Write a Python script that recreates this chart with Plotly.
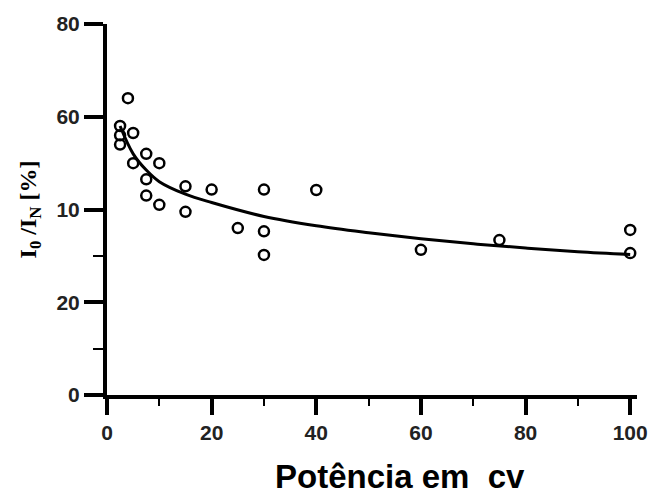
import plotly.graph_objects as go

# measured points (power in cv, I0/IN in %)
power_cv = [4, 2.5, 5, 2.5, 2.5, 7.5, 5, 10, 7.5, 7.5, 10, 15, 15, 20, 30, 25, 30, 30, 40, 60, 75, 100, 100]
ratio_pct = [64, 58, 56.5, 56, 54, 52, 50, 50, 46.5, 43, 41, 45, 39.5, 44.3, 44.3, 36, 35.3, 30.2, 44.2, 31.3, 33.4, 35.6, 30.6]

# trend curve
curve_x = [2.5, 5, 7.5, 10, 15, 20, 30, 40, 50, 60, 70, 80, 90, 100]
curve_y = [58, 52, 48.5, 46, 43.3, 41.5, 38.5, 36.5, 35, 33.7, 32.6, 31.7, 30.9, 30.3]

x_ticks = [0, 20, 40, 60, 80, 100]
x_ticklabels = ["0", "20", "40", "60", "80", "100"]
y_ticks = [0, 20, 40, 60, 80]
y_ticklabels = ["0", "20", "10", "60", "80"]

x_title = "Potência em  cv"
y_title = "I<sub>0</sub> /I<sub>N</sub> [%]"

tickfont = dict(family="Liberation Sans", size=21, color="#222", weight="bold")

fig = go.Figure()
fig.add_trace(go.Scatter(
    x=curve_x, y=curve_y, mode="lines",
    line=dict(color="black", width=3, shape="spline", smoothing=1.0),
    hoverinfo="skip", showlegend=False))
fig.add_trace(go.Scatter(
    x=power_cv, y=ratio_pct, mode="markers",
    marker=dict(symbol="circle-open", size=10, color="black", line=dict(color="black", width=2.5)),
    showlegend=False))

fig.add_annotation(
    text=x_title, xref="paper", yref="paper", x=0.553, y=-0.221,
    xanchor="center", yanchor="middle", showarrow=False,
    font=dict(family="Liberation Sans", size=33, color="black", weight="bold"))

fig.update_layout(
    width=660, height=495,
    margin=dict(l=107, r=17, t=20, b=100),
    paper_bgcolor="white", plot_bgcolor="white",
    xaxis=dict(range=[0, 101.3], showgrid=False, zeroline=False,
               showline=True, linecolor="black", linewidth=4,
               ticks="outside", ticklen=16, tickwidth=4, tickcolor="black",
               tickvals=x_ticks, ticktext=x_ticklabels, tickfont=tickfont,
               minor=dict(tickvals=[10, 30, 50, 70, 90], ticks="outside", ticklen=7,
                          tickwidth=2, tickcolor="black")),
    yaxis=dict(range=[0, 80], showgrid=False, zeroline=False,
               showline=True, linecolor="black", linewidth=4,
               ticks="outside", ticklen=19, tickwidth=4, tickcolor="black",
               tickvals=y_ticks, ticktext=y_ticklabels, tickfont=tickfont,
               minor=dict(tickvals=[10, 30], ticks="outside", ticklen=10,
                          tickwidth=1.5, tickcolor="black"),
               title=dict(text=y_title,
                          font=dict(family="Liberation Serif", size=24, color="black", weight="bold"),
                          standoff=14)),
)

fig.write_html("out.html")
